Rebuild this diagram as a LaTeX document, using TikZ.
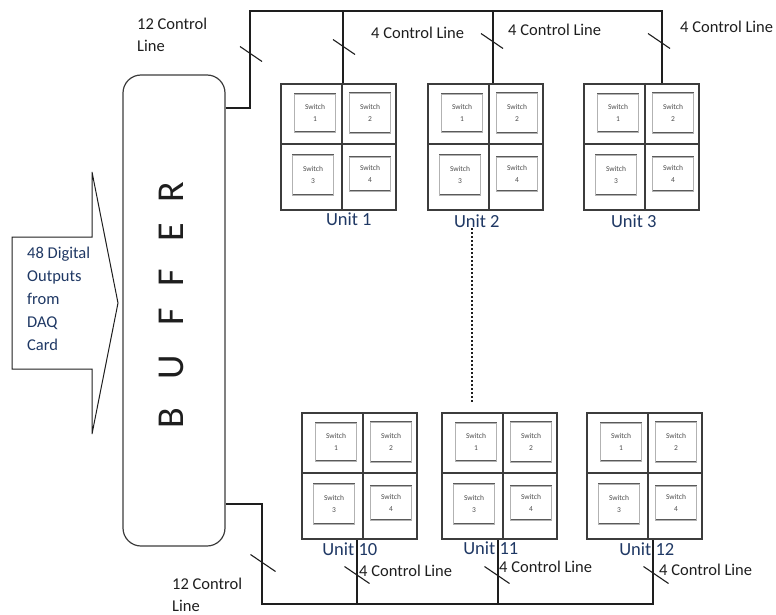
\documentclass[tikz,border=0pt]{standalone}
\usepackage{fontspec}
\setmainfont{Carlito}
\usepackage{tikz}
\usetikzlibrary{positioning,calc}
\definecolor{ink}{HTML}{1E1E1E}
\definecolor{frame}{HTML}{3C3C3C}
\definecolor{navy}{HTML}{1F3864}
\definecolor{swline}{HTML}{5A5A5A}

\begin{document}
\begin{tikzpicture}[
  x=1pt, y=-1pt,
  wire/.style={draw=ink, line width=1.3pt},
  tick/.style={draw=ink, line width=1.1pt},
  dotline/.style={draw=ink, line width=2.2pt, dash pattern=on 2.2pt off 1.8pt},
  unitbox/.style={draw=frame, line width=1.6pt, minimum width=115pt, minimum height=126pt,
                  anchor=north west, inner sep=0pt},
  cell/.style={draw=frame, line width=1.4pt},
  sw/.style={draw=swline, line width=0.6pt, double=black!30, double distance=0.6pt,
             minimum width=41pt, inner sep=0pt, align=center,
             font=\fontsize{7.5}{12}\selectfont, text=black!70},
  lbl/.style={font=\fontsize{16.5}{22}\selectfont, text=ink, inner sep=0pt},
  unitlbl/.style={font=\fontsize{18.5}{20}\selectfont, text=navy, inner sep=0pt},
  buffer/.style={draw=frame, line width=1.2pt, rounded corners=18pt,
                 minimum width=102pt, minimum height=471pt},
  bufltr/.style={font=\fontsize{38}{38}\selectfont, text=ink, rotate=90, inner sep=0pt}
]
\useasboundingbox (0,0) rectangle (776,615);

\node[buffer] (buf) at (174,310.5) {};
\foreach \c/\y [count=\i] in {B/418,U/367,F/317,F/278,E/232,R/192}
  \node[bufltr] (ltr\i) at (171,\y) {\c};

\draw[wire, line width=1pt] (12,237) -- (92,237) -- (92,172) -- (118,303)
  -- (92,434) -- (92,369) -- (12,369) -- cycle;
\node[lbl, align=left, anchor=west, text=navy, font=\fontsize{16.5}{23}\selectfont]
  (daq) at (27,299) {48 Digital\\Outputs\\from\\DAQ\\Card};

\foreach \u/\x/\y/\dx/\dy/\t in {1/280/83/10.5/9/Unit 1, 2/427/83/-8.5/11/Unit 2,
    3/583/83/-7.5/11/Unit 3, 10/301/412/-9.5/10/Unit 10, 11/441/412/-8.5/9/Unit 11,
    12/586/412/2.5/10/Unit 12}{
  \node[unitbox] (u\u) at (\x,\y) {};
  \draw[cell] ($(u\u.north west)+(62,0)$) -- ($(u\u.south west)+(62,0)$);
  \draw[cell] ($(u\u.north west)+(0,61)$) -- ($(u\u.north east)+(0,61)$);
  \foreach \k/\sx/\sy/\h in {1/35/30/38, 2/90/30/40, 3/33/92/40, 4/90/91/34}
    \node[sw, minimum height=\h pt] (u\u s\k) at ($(u\u.north west)+(\sx,\sy)$) {Switch\\\k};
  \node[unitlbl] (lbl\u) at ($(u\u.south)+(\dx,\dy)$) {\t};
}

\coordinate (k1) at (250,108);
\coordinate (b0) at (250,11);
\coordinate (t1) at (343,11);
\coordinate (t2) at (493,11);
\coordinate (t3) at (662,11);
\draw[wire] (buf.east |- k1) -- (k1) -- (b0) -- (t3) -- (t3 |- u3.north);
\foreach \i in {1,2} \draw[wire] (t\i) -- (t\i |- u\i.north);

\coordinate (k2) at (262,504);
\coordinate (b1) at (262,604);
\coordinate (d10) at (357,604);
\coordinate (d11) at (498,604);
\coordinate (d12) at (653,604);
\draw[wire] (buf.east |- k2) -- (k2) -- (b1) -- (d12) -- (d12 |- u12.south);
\foreach \i in {10,11} \draw[wire] (d\i) -- (d\i |- u\i.south);

\foreach \x/\y in {251/54, 344/47, 492/41, 659/41}
  \draw[tick] (\x-11,\y-7.5) -- (\x+11,\y+7.5);
\foreach \x/\y in {263/563, 357/575, 497/575, 656/575}
  \draw[tick] (\x-12.5,\y-8.5) -- (\x+12.5,\y+8.5);

\coordinate (v1) at (472,228);
\coordinate (v2) at (472,403);
\draw[dotline] (v1) -- (v2);

\node[lbl, align=left, anchor=west] (c12a) at (137,35) {12 Control\\Line};
\node[lbl, anchor=west] (c4a) at (371,33) {4 Control Line};
\node[lbl, anchor=west] (c4b) at (508,30) {4 Control Line};
\node[lbl, anchor=west] (c4c) at (680,27) {4 Control Line};
\node[lbl, align=left, anchor=west] (c12b) at (172,595) {12 Control\\Line};
\node[lbl, anchor=west] (c4d) at (359,571) {4 Control Line};
\node[lbl, anchor=west] (c4e) at (499,567) {4 Control Line};
\node[lbl, anchor=west] (c4f) at (659,570) {4 Control Line};
\end{tikzpicture}
\end{document}
